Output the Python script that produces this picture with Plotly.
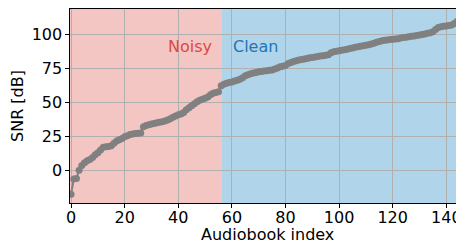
import plotly.graph_objects as go

snr_db = [
    -17.6, -6.4, -6.0, 0.0, 3.5, 5.5, 7.0, 8.0, 9.5, 11.5,
    13.0, 15.0, 17.0, 17.4, 17.6, 18.0, 20.0, 21.5, 22.5, 23.5,
    24.7, 25.5, 26.3, 26.7, 27.0, 27.2, 27.5, 32.0, 33.0, 33.6,
    34.0, 34.5, 35.0, 35.3, 35.8, 36.3, 37.0, 38.0, 39.0, 40.0,
    40.8, 41.5, 42.5, 44.5, 46.0, 47.5, 49.0, 50.5, 51.5, 52.3,
    53.0, 54.0, 55.5, 56.6, 57.3, 57.8, 62.2, 63.2, 64.0, 64.5,
    65.0, 65.6, 66.3, 66.9, 68.0, 69.5, 70.3, 71.0, 71.5, 72.0,
    72.4, 72.7, 73.0, 73.2, 73.5, 73.8, 74.5, 75.2, 76.2, 76.5,
    77.0, 78.5, 79.3, 80.0, 80.6, 81.1, 81.5, 81.9, 82.3, 82.7,
    83.0, 83.4, 83.7, 84.0, 84.3, 84.6, 85.0, 86.5, 87.2, 87.6,
    88.0, 88.3, 88.6, 89.0, 89.5, 90.0, 90.4, 90.8, 91.2, 91.6,
    92.0, 92.4, 92.8, 93.5, 94.2, 94.8, 95.3, 95.6, 95.9, 96.1,
    96.3, 96.5, 96.8, 97.2, 97.6, 97.9, 98.2, 98.5, 98.8, 99.2,
    99.5, 99.9, 100.3, 100.7, 101.2, 101.9, 103.5, 105.0, 105.6, 105.9,
    106.1, 106.4, 106.8, 108.0, 109.5, 111.0, 113.0,
]
audiobook_index = list(range(len(snr_db)))
noisy_clean_boundary = 56
region_labels = ["Noisy", "Clean"]
x_ticks = [0, 20, 40, 60, 80, 100, 120, 140]
y_ticks = [0, 25, 50, 75, 100]
x_title = "Audiobook index"
y_title = "SNR [dB]"

font_family = "DejaVu Sans"
fs = 16

fig = go.Figure()
fig.add_vrect(x0=-5, x1=noisy_clean_boundary, fillcolor="#f4c6c3", line_width=0, layer="below")
fig.add_vrect(x0=noisy_clean_boundary, x1=200, fillcolor="#b0d4ea", line_width=0, layer="below")

fig.add_trace(go.Scatter(
    x=audiobook_index, y=snr_db, mode="lines+markers",
    line=dict(color="#808080", width=2),
    marker=dict(color="#808080", size=7),
    showlegend=False, hoverinfo="skip",
))

fig.add_annotation(x=noisy_clean_boundary - 2.5, y=90.7, text=region_labels[0], showarrow=False,
                   xanchor="right", yanchor="middle", font=dict(color="#d94a43", size=fs, family=font_family))
fig.add_annotation(x=noisy_clean_boundary + 3.5, y=90.7, text=region_labels[1], showarrow=False,
                   xanchor="left", yanchor="middle", font=dict(color="#1f77b4", size=fs, family=font_family))
fig.add_annotation(x=0.5, xref="paper", y=0, yref="paper", text=x_title, showarrow=False,
                   xanchor="center", yanchor="top", yshift=-21, borderpad=0,
                   font=dict(color="black", size=fs, family=font_family))

# page body has an 8px margin, so the figure is drawn at (8, 8)
fig.update_layout(
    width=456, height=234,
    margin=dict(l=62, r=0, t=1, b=39),
    plot_bgcolor="white", paper_bgcolor="white",
    font=dict(family=font_family, size=fs, color="black"),
)
fig.update_xaxes(
    range=[-0.4, 146.6], tickvals=x_ticks, ticks="outside", ticklen=3.5, tickcolor="black",
    showline=True, linecolor="black", linewidth=1.2, mirror=True,
    showgrid=True, gridcolor="#b0b0b0", gridwidth=1, zeroline=False,
    ticklabelstandoff=-4,
    tickfont=dict(size=fs),
)
fig.update_yaxes(
    range=[-24.0, 118.6], tickvals=y_ticks, ticks="outside", ticklen=3.5, tickcolor="black",
    showline=True, linecolor="black", linewidth=1.2,
    showgrid=True, gridcolor="#b0b0b0", gridwidth=1, zeroline=False,
    title=dict(text=y_title, standoff=4, font=dict(size=fs)),
    tickfont=dict(size=fs),
)

fig.write_html("out.html")
